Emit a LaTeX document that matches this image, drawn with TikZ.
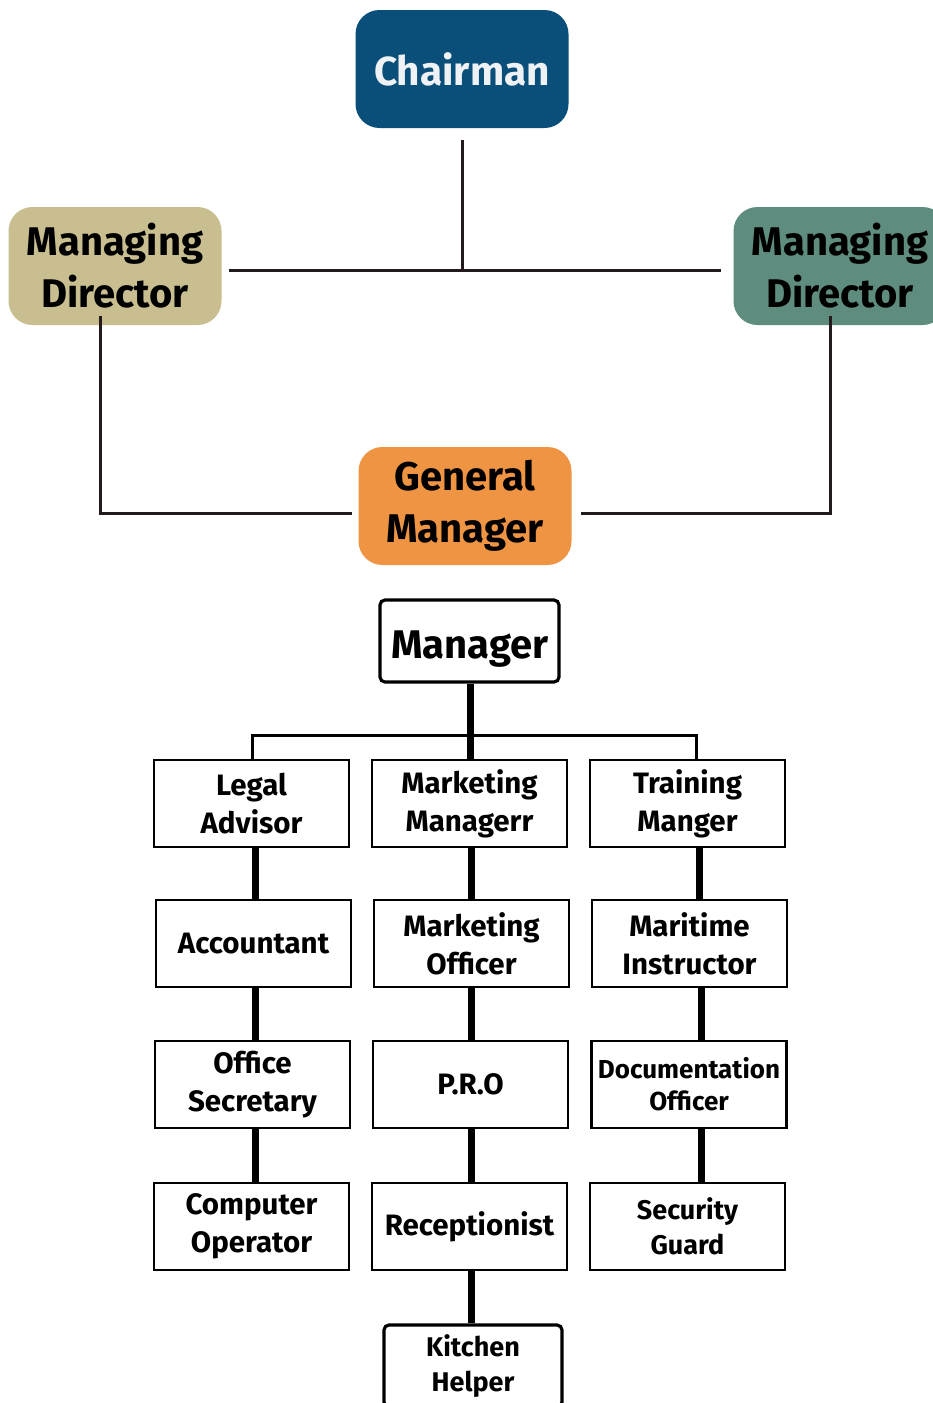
\documentclass[tikz,border=0pt]{standalone}
\usepackage{fontspec}
\setmainfont{Fira Sans}
\definecolor{chair}{HTML}{0A4F7A}
\definecolor{mdl}{HTML}{C8BE8F}
\definecolor{mdr}{HTML}{5E8C7E}
\definecolor{gm}{HTML}{EE9442}
\definecolor{ln}{HTML}{231A1C}
\definecolor{wt}{HTML}{EEF2F5}
\begin{document}
\begin{tikzpicture}[x=1pt,y=-1pt,
  blob/.style={fill=#1,rounded corners=24pt,minimum width=213pt,minimum height=118pt,
    align=center,inner sep=0pt,font=\bfseries\fontsize{40}{52}\selectfont},
  box/.style={draw=black,line width=2.5pt,minimum width=195pt,minimum height=87pt,
    align=center,inner sep=0pt,font=\bfseries\fontsize{29.5}{38}\selectfont},
  rbox/.style={box,rounded corners=5pt,line width=3.2pt},
  thin/.style={draw=ln,line width=3pt},
  thick/.style={draw=black,line width=7pt},
  brk/.style={draw=black,line width=3pt}]
\useasboundingbox (0,0) rectangle (933,1403);
\fill[white] (0,0) rectangle (933,1403);
% top blobs
\node[blob=chair,text=wt,font=\bfseries\fontsize{40.5}{50}\selectfont] (ch) at (462,69) {Chairman};
\node[blob=mdl] (ml) at (115,266) {Managing\\Director};
\node[blob=mdr] (mr) at (840,266) {Managing\\Director};
\node[blob=gm] (g) at (465,506) {General\\Manager};
% connectors of the top part
\coordinate (j) at (462,270);
\coordinate (cl) at (100,513);
\coordinate (cr) at (830,513);
\draw[thin] ([yshift=-12pt]ch.south) -- (j);
\draw[thin] ([xshift=7pt]ml.east |- j) -- ([xshift=-12pt]mr.west |- j);
\draw[thin] (ml.south -| cl) ++(0,-9) -- (cl) -- ([xshift=-6pt]g.west |- cl);
\draw[thin] (mr.south -| cr) ++(0,-9) -- (cr) -- ([xshift=9pt]g.east |- cr);
% manager
\node[rbox,minimum width=179pt,minimum height=82pt] (m) at (469.5,641) {};
\node[inner sep=0pt,font=\bfseries\fontsize{40}{44}\selectfont] (mt) at (470,649) {Manager};
% row 1
\node[box] (la) at (251.5,803.5) {Legal\\Advisor};
\node[box] (mm) at (469.5,803.5) {Marketing\\Managerr};
\node[box] (tm) at (687.5,803.5) {Training\\Manger};
% row 2
\node[box] (ac) at (253.5,943.5) {Accountant};
\node[box] (mo) at (471.5,943.5) {Marketing\\Officer};
\node[box] (mi) at (689.5,943.5) {Maritime\\Instructor};
% row 3
\node[box] (os) at (252.5,1084.5) {Office\\Secretary};
\node[box] (pr) at (470.5,1084.5) {P.R.O};
\node[box,font=\bfseries\fontsize{26}{32}\selectfont] (doc) at (689,1084.5) {Documentation\\Officer};
% row 4
\node[box] (co) at (251.5,1226.5) {Computer\\Operator};
\node[box] (re) at (469.5,1226.5) {Receptionist};
\node[box,font=\bfseries\fontsize{27}{35}\selectfont] (sg) at (687.5,1226.5) {Security\\Guard};
% kitchen
\node[rbox,minimum width=178pt,minimum height=82pt,font=\bfseries\fontsize{27}{35}\selectfont] (kh) at (473,1366) {Kitchen\\Helper};
% manager connectors
\coordinate (bl) at (252,735);
\coordinate (br) at (696,735);
\draw[thick] (m.south -| 470,0) -- (mm.north -| 470,0);
\draw[brk] (la.north -| bl) -- (bl) -- (br) -- (tm.north -| br);
% column connectors
\draw[thick] (la.south -| 255,0) -- (ac.north -| 255,0);
\draw[thick] (ac.south -| 255,0) -- (os.north -| 255,0);
\draw[thick] (os.south -| 255,0) -- (co.north -| 255,0);
\draw[thick] (mm.south -| 471,0) -- (mo.north -| 471,0);
\draw[thick] (mo.south -| 471,0) -- (pr.north -| 471,0);
\draw[thick] (pr.south -| 471,0) -- (re.north -| 471,0);
\draw[thick] (re.south -| 471,0) -- (kh.north -| 471,0);
\draw[thick] (tm.south -| 699,0) -- (mi.north -| 699,0);
\draw[thick] (mi.south -| 701,0) -- (doc.north -| 701,0);
\draw[thick] (doc.south -| 701,0) -- (sg.north -| 701,0);
\end{tikzpicture}
\end{document}
